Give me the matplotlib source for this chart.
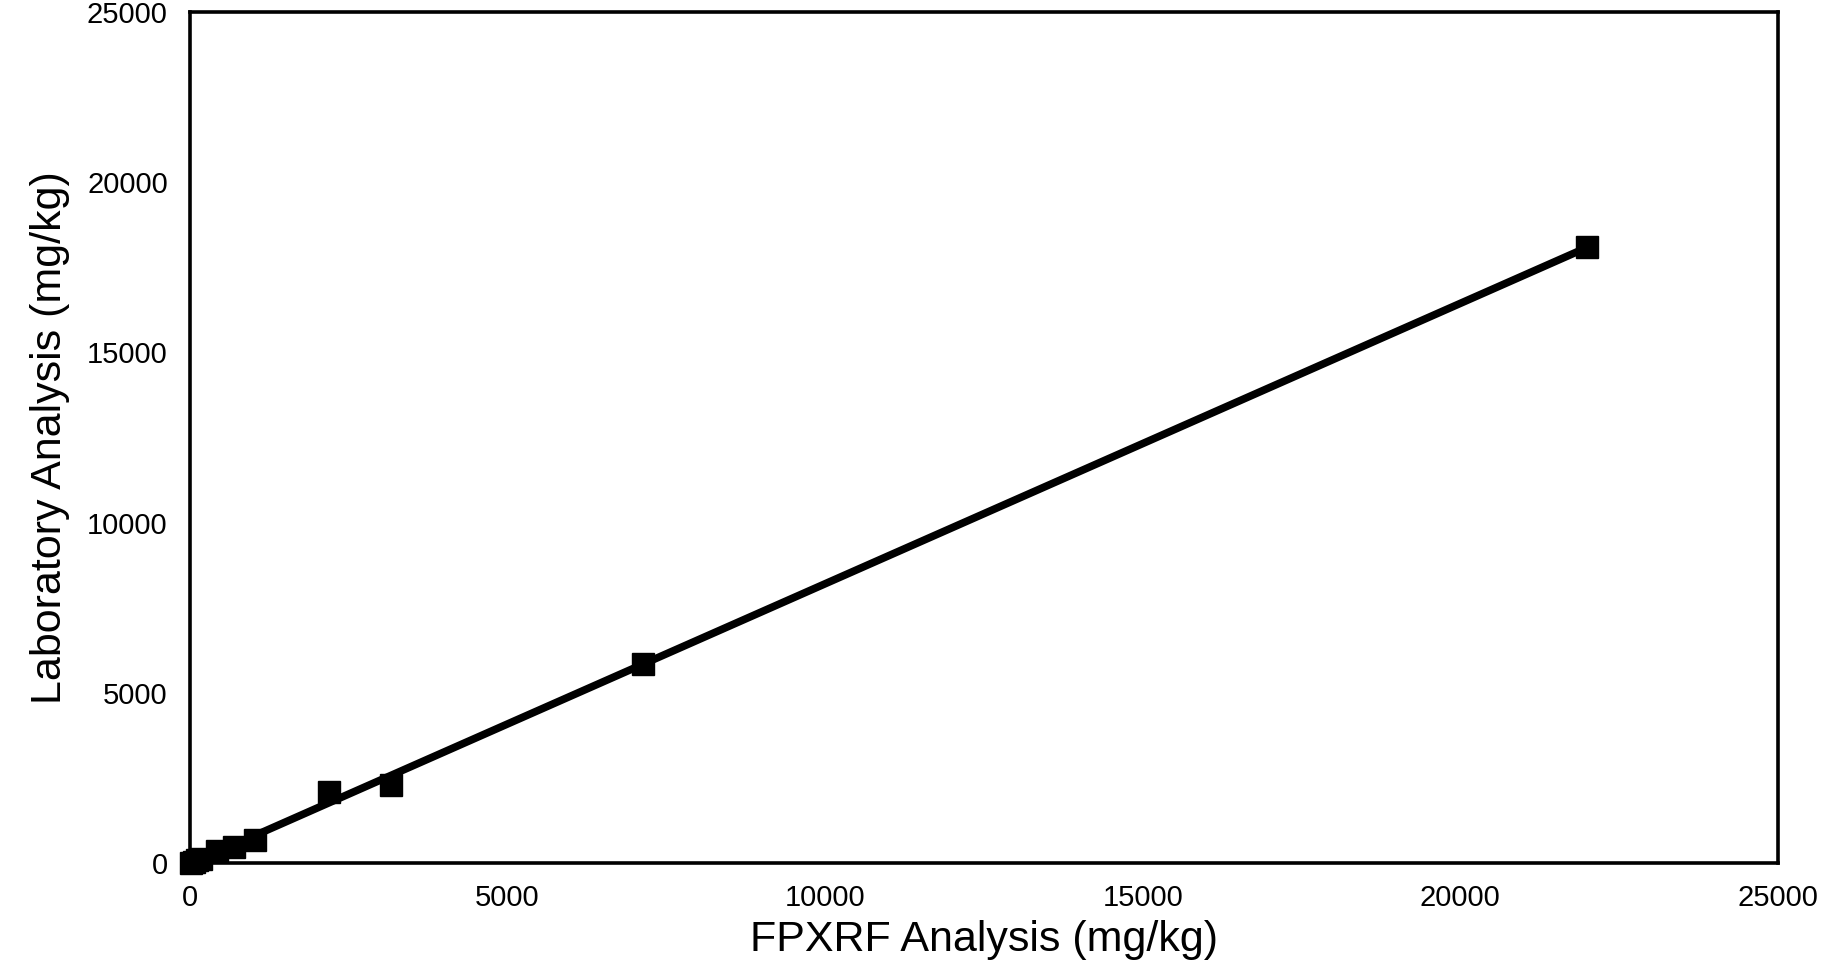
import numpy as np
import matplotlib
matplotlib.use("Agg")
import matplotlib.pyplot as plt

plt.rcParams['font.family'] = ['Liberation Sans', 'DejaVu Sans']

# Data (mg/kg)
fpxrf = [20, 60, 110, 170, 425, 690, 1020, 2190, 3160, 7130, 22000]
lab = [15, 40, 80, 130, 350, 470, 680, 2090, 2290, 5850, 18100]

xticks = [0, 5000, 10000, 15000, 20000, 25000]
yticks = [0, 5000, 10000, 15000, 20000, 25000]

fig = plt.figure(figsize=(18.32, 9.72), dpi=100)
ax = fig.add_axes([0.1037, 0.1121, 0.8668, 0.8756])

x = np.array(fpxrf, dtype=float)
y = np.array(lab, dtype=float)
slope, intercept = np.polyfit(x, y, 1)
xl = np.array([x.min(), x.max()])
ax.plot(xl, slope * xl + intercept, color='black', lw=5.5, solid_capstyle='butt', zorder=2)
ax.plot(x, y, linestyle='none', marker='s', markersize=16, color='black',
        clip_on=False, zorder=3)

ax.set_xlim(0, 25000)
ax.set_ylim(0, 25000)
ax.set_xticks(xticks)
ax.set_yticks(yticks)
ax.set_xticklabels([str(v) for v in xticks])
ax.set_yticklabels([str(v) for v in yticks])
ax.tick_params(axis='both', length=0, labelsize=21)
ax.tick_params(axis='x', pad=15)
ax.tick_params(axis='y', pad=16)
for s in ax.spines.values():
    s.set_linewidth(2.6)
    s.set_color('black')

ax.set_xlabel('FPXRF Analysis (mg/kg)', fontsize=31, labelpad=6)
ax.set_ylabel('Laboratory Analysis (mg/kg)', fontsize=31, labelpad=12)

fig.savefig('out.png', dpi=100, facecolor='white')
